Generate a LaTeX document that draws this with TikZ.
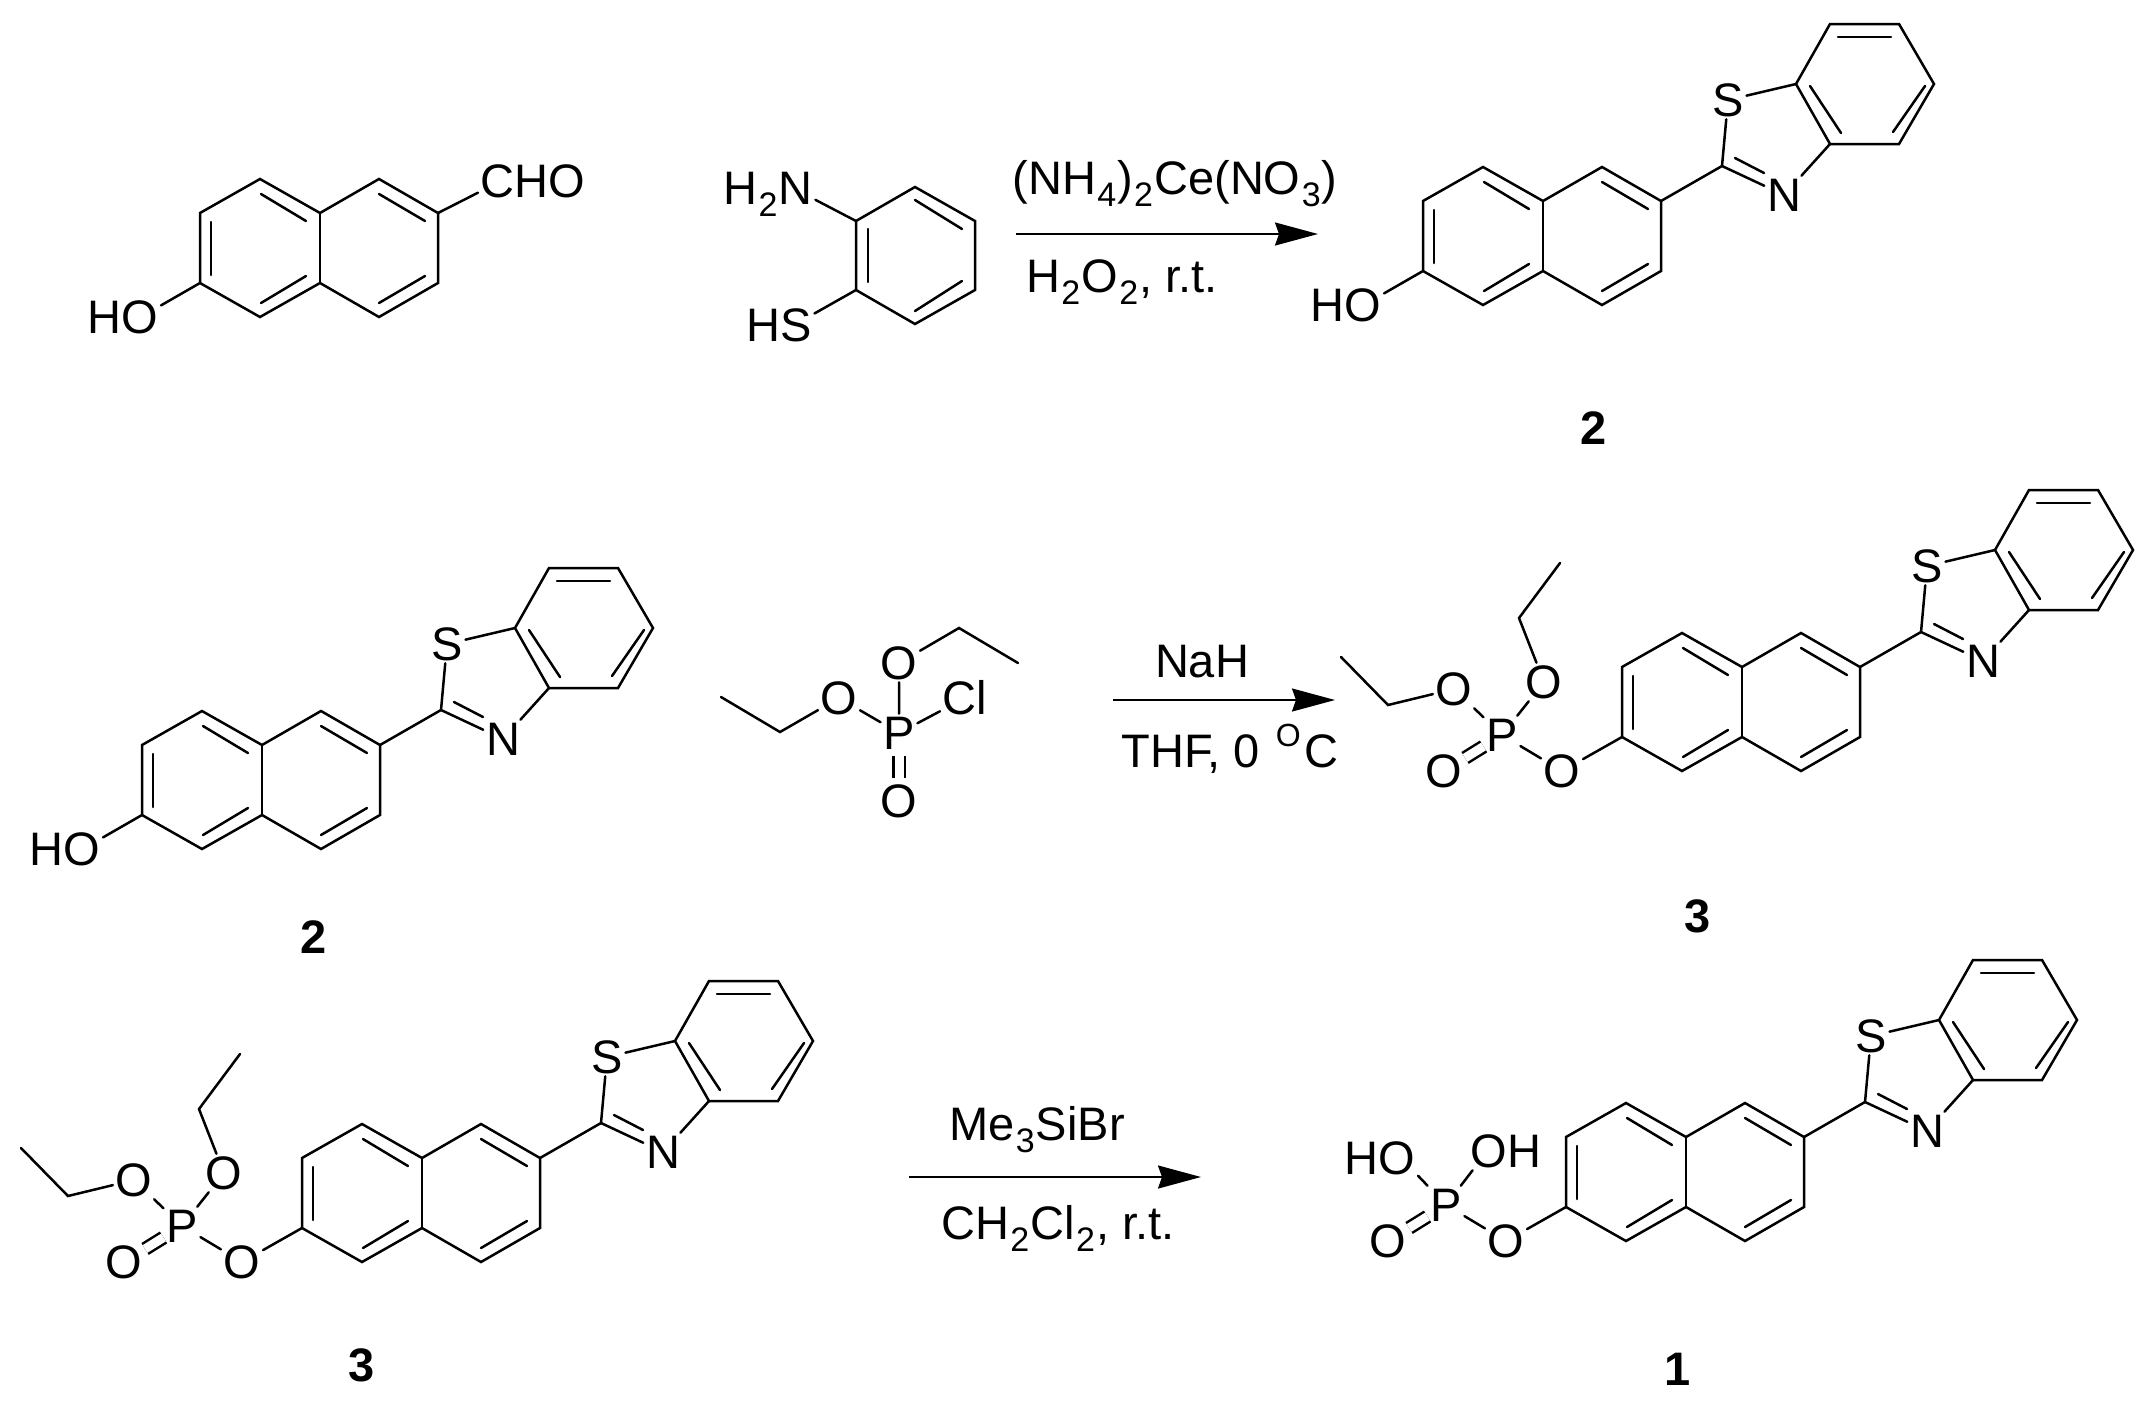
\documentclass[tikz,border=0pt]{standalone}
\usepackage{fontspec}
\setmainfont{Liberation Sans}
\usetikzlibrary{arrows.meta}

\newcommand{\labelfont}{\fontsize{23.5}{25}\selectfont}
\newcommand{\lowidx}[1]{\kern0.6pt\raisebox{-6pt}{\fontsize{17}{17}\selectfont #1}\kern0.6pt}
\newcommand{\highidx}[1]{\raisebox{10.5pt}{\fontsize{16}{16}\selectfont #1}}

\tikzset{
    bond/.style={line width=1.25pt, line cap=round},
    dblbond/.style={line width=1.25pt, double, double distance=4.5pt},
    atom/.style={font=\labelfont, inner sep=1.2pt, text height=16.5pt, text depth=0pt},
    reagent/.style={font=\labelfont, inner sep=0pt, text height=16.5pt, text depth=0pt},
    compound/.style={font=\labelfont\bfseries, inner sep=0pt, text height=16.5pt, text depth=0pt},
    rxnarrow/.style={line width=1pt, -{Stealth[length=21.5pt,width=11.5pt,inset=2pt]}}
}

% Naphthalene rings
\newcommand{\naphring}[3]{
    \begin{scope}[shift={(#2,#3)}, name prefix=#1-]
        \coordinate (n1) at (-120,0);
        \coordinate (n2) at (-60,-34);
        \coordinate (n3) at (0,0);
        \coordinate (n4) at (59,-34);
        \coordinate (n5) at (118,0);
        \coordinate (n6) at (118,70);
        \coordinate (n7) at (59,104);
        \coordinate (n8) at (0,70);
        \coordinate (n9) at (-60,104);
        \coordinate (n10) at (-120,70);
        \draw[bond] (n1) -- (n2) -- (n3) -- (n4) -- (n5) -- (n6) -- (n7) -- (n8) -- (n9) -- (n10) -- cycle;
        \draw[bond] (n3) -- (n8);
        \draw[bond] (-109,9) -- (-109,62);
        \draw[bond] (-59,-19) -- (-14,8);
        \draw[bond] (-14,63) -- (-59,90);
        \draw[bond] (59,-19) -- (105,8);
        \draw[bond] (105,63) -- (59,90);
    \end{scope}
}

% Benzothiazole on the naphthalene
\newcommand{\benzothiazole}[3]{
    \begin{scope}[shift={(#2,#3)}, name prefix=#1-]
        \coordinate (c2) at (179,-35);
        \node[atom] (S) at (185,-101) {S};
        \node[atom] (N) at (241,-6) {N};
        \coordinate (b1) at (253,-117);
        \coordinate (b2) at (287,-177);
        \coordinate (b3) at (356,-177);
        \coordinate (b4) at (391,-117);
        \coordinate (b5) at (356,-57);
        \coordinate (b6) at (287,-57);
        \draw[bond] (b1) -- (b2) -- (b3) -- (b4) -- (b5) -- (b6) -- cycle;
        \draw[bond] (295,-164) -- (348,-164);
        \draw[bond] (382,-115) -- (350,-69);
        \draw[bond] (267,-115) -- (298,-68);
        \draw[bond] (n5) -- (c2) -- (S) -- (b1);
        \draw[bond] (c2) -- (N) -- (b6);
        \draw[bond] (192,-43) -- (221,-28);
    \end{scope}
}

% Free hydroxyl
\newcommand{\hydroxyl}[3]{
    \begin{scope}[shift={(#2,#3)}, name prefix=#1-]
        \node[atom] (HO) at (-197,104) {HO};
        \draw[bond] (n10) -- (HO.17);
    \end{scope}
}

% Phosphate centre
\newcommand{\phosphate}[3]{
    \begin{scope}[shift={(#2,#3)}, name prefix=#1-]
        \node[atom] (P) at (-240,68) {P};
        \node[atom] (O3) at (-298,104) {O};
        \node[atom] (O4) at (-180,104) {O};
        \draw[dblbond] (P) -- (O3);
        \draw[bond] (P) -- (O4) -- (n10);
    \end{scope}
}

% Two ethyl esters
\newcommand{\ethylarms}[3]{
    \begin{scope}[shift={(#2,#3)}, name prefix=#1-]
        \node[atom] (O1) at (-288,22) {O};
        \node[atom] (O2) at (-198,15) {O};
        \coordinate (e1) at (-354,38);
        \coordinate (e2) at (-401,-10);
        \coordinate (e3) at (-223,-49);
        \coordinate (e4) at (-182,-104);
        \draw[bond] (P) -- (O1) -- (e1) -- (e2);
        \draw[bond] (P) -- (O2) -- (e3) -- (e4);
    \end{scope}
}

\begin{document}
\begin{tikzpicture}[x=0.5pt, y=-0.5pt]
    \useasboundingbox (0,0) rectangle (2146,1409);

    % Aldehyde
    \naphring{ald}{320}{213}
    \hydroxyl{ald}{320}{213}
    \node[atom] (CHO) at (533,181) {CHO};
    \draw[bond] (ald-n5) -- (CHO.192);

    % Aminothiophenol
    \coordinate (am1) at (856,221);
    \coordinate (am2) at (915,187);
    \coordinate (am3) at (975,221);
    \coordinate (am4) at (975,290);
    \coordinate (am5) at (915,324);
    \coordinate (am6) at (856,290);
    \draw[bond] (am1) -- (am2) -- (am3) -- (am4) -- (am5) -- (am6) -- cycle;
    \draw[bond] (868,229) -- (868,282);
    \draw[bond] (915,200) -- (962,229);
    \draw[bond] (962,281) -- (915,311);
    \node[atom] (amino) at (768,188) {H\lowidx{2}N};
    \node[atom] (thiol) at (779,325) {HS};
    \draw[bond] (am1) -- (amino.-14);
    \draw[bond] (am6) -- (thiol.18);

    % First step
    \coordinate (ar1a) at (1016,234);
    \coordinate (ar1b) at (1318,234);
    \draw[rxnarrow] (ar1a) -- (ar1b);
    \node[reagent] (can) at (1175,178) {(NH\lowidx{4})\lowidx{2}Ce(NO\lowidx{3})};
    \node[reagent] (perox) at (1122,276) {H\lowidx{2}O\lowidx{2}, r.t.};

    % Compound 2, top
    \naphring{topt}{1543}{201}
    \benzothiazole{topt}{1543}{201}
    \hydroxyl{topt}{1543}{201}
    \node[compound] (cpdA) at (1594,428) {2};

    % Compound 2, middle
    \naphring{midl}{262}{745}
    \benzothiazole{midl}{262}{745}
    \hydroxyl{midl}{262}{745}
    \node[compound] (cpdB) at (314,937) {2};

    % Chlorophosphate
    \node[atom] (clP) at (899,733) {P};
    \node[atom] (clOa) at (899,663) {O};
    \node[atom] (clOb) at (839,698) {O};
    \node[atom] (clOc) at (899,801) {O};
    \node[atom] (clCl) at (965,698) {Cl};
    \coordinate (cle1) at (959,628);
    \coordinate (cle2) at (1018,663);
    \coordinate (cle3) at (780,732);
    \coordinate (cle4) at (721,697);
    \draw[bond] (clP) -- (clOa) -- (cle1) -- (cle2);
    \draw[bond] (clP) -- (clOb) -- (cle3) -- (cle4);
    \draw[bond] (clP) -- (clCl);
    \draw[dblbond, shorten >=2pt, shorten <=2pt] (clP) -- (clOc);

    % Second step
    \coordinate (ar2a) at (1113,700);
    \coordinate (ar2b) at (1335,700);
    \draw[rxnarrow] (ar2a) -- (ar2b);
    \node[reagent] (nah) at (1202,661) {NaH};
    \node[reagent] (thf) at (1230,751) {THF, 0\hspace{8pt}\highidx{O}\kern2pt C};

    % Compound 3, middle
    \naphring{midr}{1742}{667}
    \benzothiazole{midr}{1742}{667}
    \phosphate{midr}{1742}{667}
    \ethylarms{midr}{1742}{667}
    \node[compound] (cpdC) at (1698,916) {3};

    % Compound 3, bottom
    \naphring{botl}{422}{1158}
    \benzothiazole{botl}{422}{1158}
    \phosphate{botl}{422}{1158}
    \ethylarms{botl}{422}{1158}
    \node[compound] (cpdD) at (362,1365) {3};

    % Third step
    \coordinate (ar3a) at (909,1177);
    \coordinate (ar3b) at (1201,1177);
    \draw[rxnarrow] (ar3a) -- (ar3b);
    \node[reagent] (tms) at (1037,1124) {Me\lowidx{3}SiBr};
    \node[reagent] (dcm) at (1058,1223) {CH\lowidx{2}Cl\lowidx{2}, r.t.};

    % Compound 1
    \naphring{botr}{1686}{1137}
    \benzothiazole{botr}{1686}{1137}
    \phosphate{botr}{1686}{1137}
    \node[atom] (acidA) at (1380,1158) {HO};
    \node[atom] (acidB) at (1506,1151) {OH};
    \draw[bond] (botr-P) -- (acidA.-25);
    \draw[bond] (botr-P) -- (acidB.210);
    \node[compound] (cpdE) at (1678,1369) {1};
\end{tikzpicture}
\end{document}
